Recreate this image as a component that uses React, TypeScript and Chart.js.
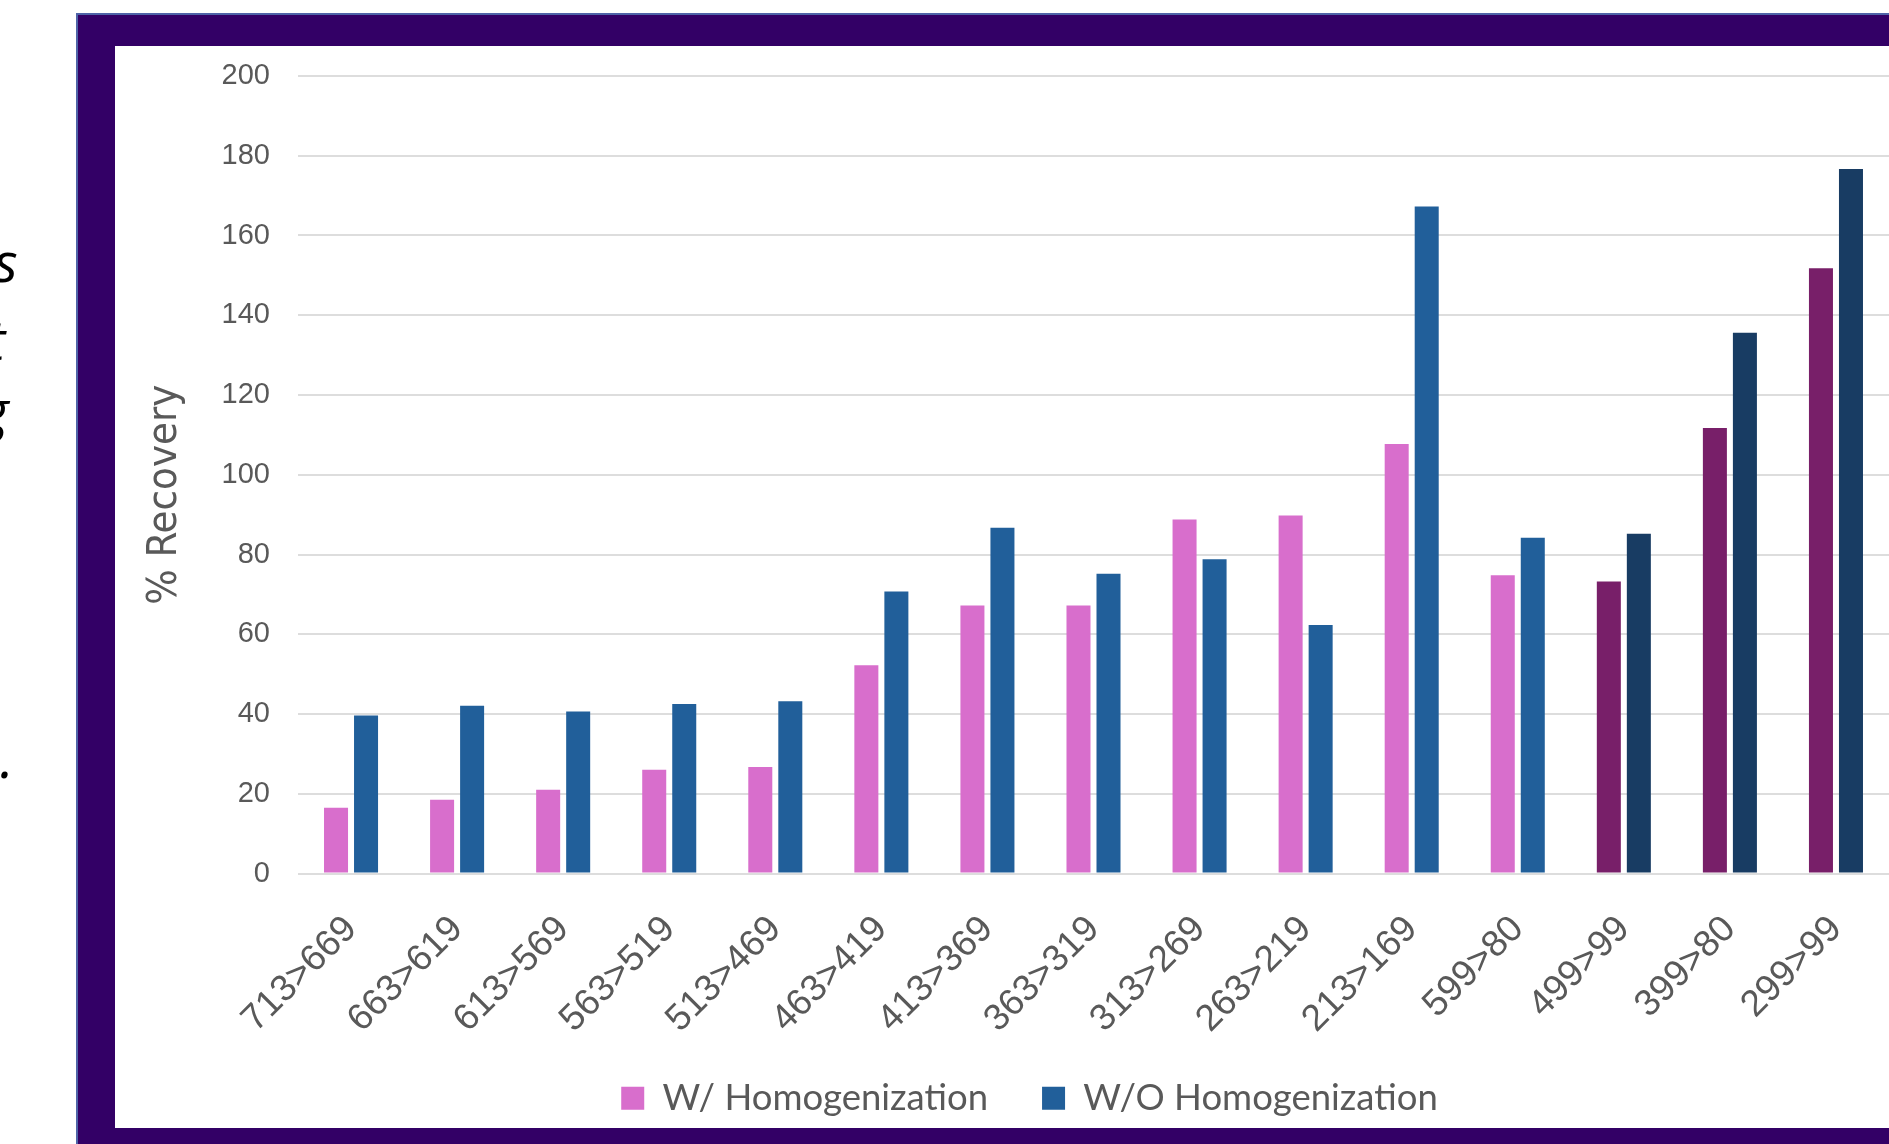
import React, { useEffect, useRef } from "react";
import { Chart, registerables } from "chart.js";

Chart.register(...registerables);

const categories = [
  "713>669", "663>619", "613>569", "563>519", "513>469", "463>419", "413>369",
  "363>319", "313>269", "263>219", "213>169", "599>80", "499>99", "399>80", "299>99",
];
const withHomogenization = [16.5, 18.5, 21.0, 26.0, 26.7, 52.2, 67.2, 67.2, 88.8, 89.8, 107.7, 74.8, 73.2, 111.7, 151.8];
const withoutHomogenization = [39.6, 42.1, 40.6, 42.5, 43.2, 70.7, 86.7, 75.2, 78.8, 62.3, 167.3, 84.2, 85.2, 135.6, 176.7];
const seriesLabels = ["W/ Homogenization", "W/O Homogenization"];
const yMin = 0;
const yMax = 200;
const yStep = 20;
const darkGroupStart = 12; // categories from this index are drawn in darker shades

const PINK = "#D86ECC";
const PURPLE = "#781F69";
const BLUE = "#215F9A";
const NAVY = "#183C63";

// keeps rotated x labels from being clipped by the legend box, nudges the legend,
// and lowers the y-axis title a little (ticks are already configured at this point)
const layoutTweaks = {
  id: "layoutTweaks",
  afterLayout(chart: any) {
    const x = chart.scales.x;
    if (x) x.bottom = chart.height;
    const y = chart.scales.y;
    if (y) {
      y.top += 20;
      y.bottom += 20;
    }
    const lg = chart.legend;
    if (lg) {
      lg.left += 15;
      lg.right += 15;
    }
  },
};

export default function App() {
  const ref = useRef<HTMLCanvasElement | null>(null);

  useEffect(() => {
    if (!ref.current) return;
    const chart = new Chart(ref.current, {
      type: "bar",
      data: {
        labels: categories,
        datasets: [
          {
            label: seriesLabels[0],
            data: withHomogenization,
            backgroundColor: (c: any) => (c.dataIndex >= darkGroupStart ? PURPLE : PINK),
            categoryPercentage: 0.566,
            barPercentage: 0.8,
          },
          {
            label: seriesLabels[1],
            data: withoutHomogenization,
            backgroundColor: (c: any) => (c.dataIndex >= darkGroupStart ? NAVY : BLUE),
            categoryPercentage: 0.566,
            barPercentage: 0.8,
          },
        ],
      },
      plugins: [layoutTweaks],
      options: {
        responsive: false,
        animation: false,
        devicePixelRatio: 1,
        layout: { padding: { left: 25, right: 46, top: 30, bottom: 1.5 } },
        plugins: {
          tooltip: { enabled: false },
          legend: {
            position: "bottom",
            labels: {
              boxWidth: 23,
              boxHeight: 23,
              padding: 54,
              color: "#595959",
              font: { family: "Lato, 'Liberation Sans', sans-serif", size: 36.5 },
            },
          },
        },
        scales: {
          x: {
            grid: { display: false },
            border: { display: false },
            ticks: {
              color: "#595959",
              font: { family: "'Liberation Sans', Arial, sans-serif", size: 37 },
              minRotation: 45,
              maxRotation: 45,
              autoSkip: false,
              padding: 26,
            },
            afterFit: (s: any) => {
              s.height = 152.5;
            },
          },
          y: {
            min: yMin,
            max: yMax,
            ticks: {
              stepSize: yStep,
              color: "#595959",
              font: { family: "'Liberation Sans', Arial, sans-serif", size: 29 },
              padding: 28,
            },
            grid: { color: "#DDDDDD", lineWidth: 2, drawTicks: false },
            border: { display: false },
            title: {
              display: true,
              text: "% Recovery",
              color: "#595959",
              font: { family: "'DejaVu Sans Condensed', 'Liberation Sans Narrow', 'Arial Narrow', sans-serif", size: 41.5 },
              padding: { top: 0, bottom: 30 },
            },
            afterFit: (s: any) => {
              s.width = 158;
              s.paddingTop = 0;
              s.paddingBottom = 0;
            },
          },
        },
      },
    });
    return () => chart.destroy();
  }, []);

  const sideText: React.CSSProperties = {
    position: "absolute",
    fontFamily: "'Open Sans', sans-serif",
    fontStyle: "italic",
    fontSize: 55,
    lineHeight: 1,
    color: "#000",
    whiteSpace: "nowrap",
  };

  return (
    <div
      style={{
        position: "fixed",
        left: 0,
        top: 0,
        width: 1889,
        height: 1144,
        overflow: "hidden",
        background: "#fff",
      }}
    >
      <span style={{ ...sideText, left: -6, top: 233 }}>s</span>
      <span style={{ ...sideText, left: -13, top: 311 }}>t</span>
      <span style={{ ...sideText, left: -20, top: 381 }}>g</span>
      <span style={{ ...sideText, left: 0, top: 729 }}>.</span>
      <div
        style={{
          position: "absolute",
          left: 76,
          top: 13,
          width: 1900,
          height: 1200,
          background: "#330066",
          borderLeft: "2px solid #4F64A8",
          borderTop: "2px solid #4F64A8",
          boxSizing: "border-box",
        }}
      />
      <div
        style={{
          position: "absolute",
          left: 115,
          top: 46,
          width: 1820,
          height: 1082,
          background: "#fff",
        }}
      >
        <canvas ref={ref} width={1820} height={1082} style={{ display: "block" }} />
      </div>
    </div>
  );
}
